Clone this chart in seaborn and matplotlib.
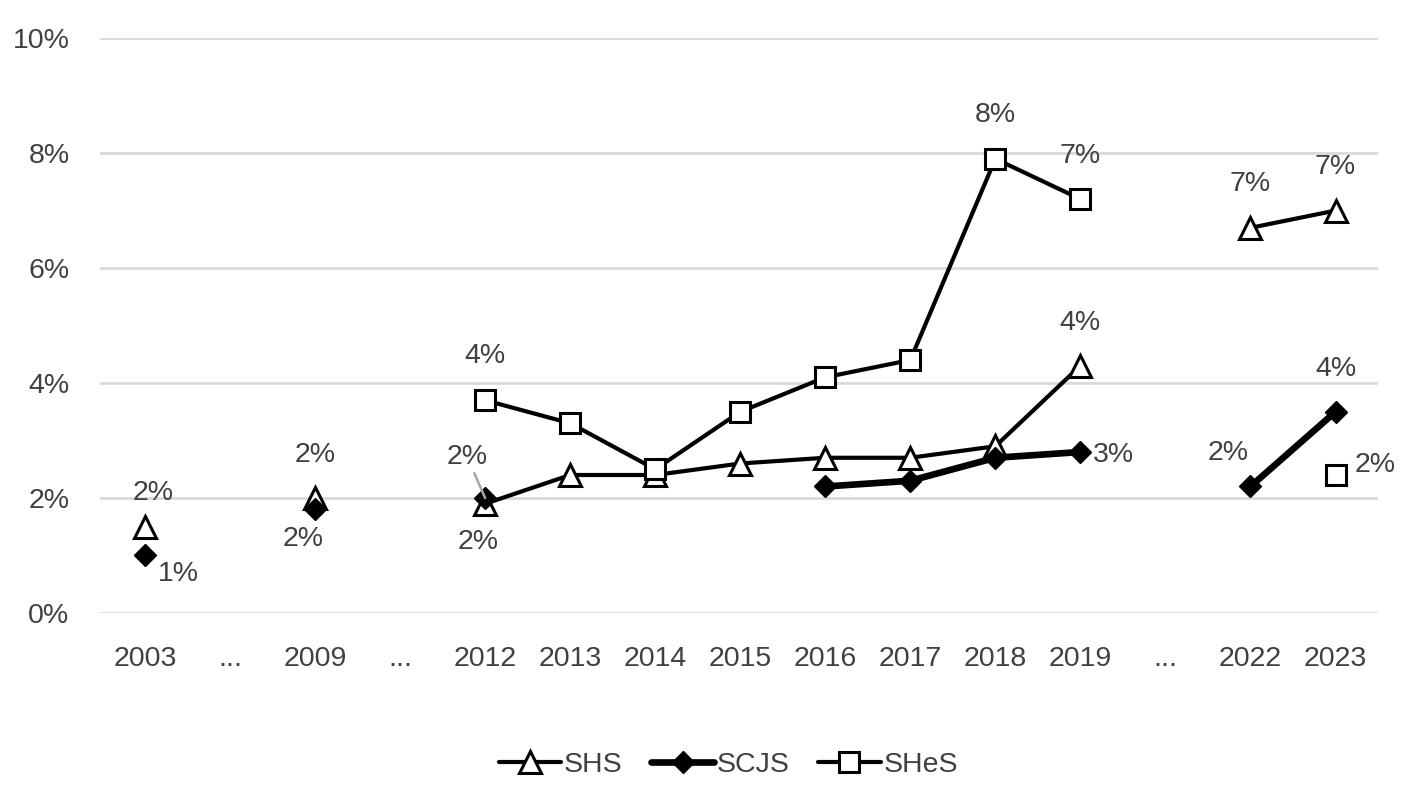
import numpy as np
import pandas as pd
import seaborn as sns
import matplotlib.pyplot as plt
from matplotlib.lines import Line2D

# categories on the x axis ("..." marks skipped years)
years = ['2003', '...', '2009', '...', '2012', '2013', '2014', '2015',
         '2016', '2017', '2018', '2019', '...', '2022', '2023']

nan = np.nan
shs = [1.5, nan, 2.0, nan, 1.9, 2.4, 2.4, 2.6, 2.7, 2.7, 2.9, 4.3, nan, 6.7, 7.0]
scjs = [1.0, nan, 1.8, nan, 2.0, nan, nan, nan, 2.2, 2.3, 2.7, 2.8, nan, 2.2, 3.5]
shes = [nan, nan, nan, nan, 3.7, 3.3, 2.5, 3.5, 4.1, 4.4, 7.9, 7.2, nan, nan, 2.4]

# which points carry a data label
shs_lab = [0, 2, 4, 11, 13, 14]
scjs_lab = [0, 2, 4, 11, 13, 14]
shes_lab = [4, 10, 11, 14]


def long_form(name, vals):
    rows = []
    seg = 0
    prev = False
    for i, v in enumerate(vals):
        if np.isnan(v):
            prev = False
            continue
        if not prev:
            seg += 1
        rows.append({'pos': i, 'val': v, 'series': name, 'seg': seg})
        prev = True
    return pd.DataFrame(rows)


df_shs = long_form('SHS', shs)
df_scjs = long_form('SCJS', scjs)
df_shes = long_form('SHeS', shes)

sns.set_style('white')
plt.rcParams['font.family'] = ['Liberation Sans', 'DejaVu Sans']
txt = '#404040'

fig = plt.figure(figsize=(14.06, 7.94), dpi=100)
ax = fig.add_axes([0.0711, 0.228, 0.909, 0.724])

styles = {
    'SHS': dict(lw=3.0, marker='^', markersize=15.5, mfc='white', mec='black', mew=2.2),
    'SCJS': dict(lw=4.8, marker='D', markersize=11, mfc='black', mec='black', mew=1),
    'SHeS': dict(lw=3.0, marker='s', markersize=15, mfc='white', mec='black', mew=2.2),
}

for name, d in [('SHS', df_shs), ('SCJS', df_scjs), ('SHeS', df_shes)]:
    sns.lineplot(data=d, x='pos', y='val', units='seg', estimator=None,
                 color='black', ax=ax, legend=False, **styles[name])

# data labels (offsets in pixels)
shs_off = {0: (8, 34), 2: (0, 43), 4: (-7, -38), 11: (0, 43), 13: (0, 44), 14: (0, 44)}
scjs_off = {0: (33, -19), 2: (-12, -30), 4: (-18, 41), 11: (33, -3), 13: (-22, 33), 14: (0, 43)}
shes_off = {4: (0, 44), 10: (0, 44), 11: (0, 43), 14: (40, 10)}

for vals, idx, offs in [(shs, shs_lab, shs_off), (scjs, scjs_lab, scjs_off),
                        (shes, shes_lab, shes_off)]:
    for i in idx:
        v = vals[i]
        kw = {}
        if vals is scjs and i == 4:
            kw['arrowprops'] = dict(arrowstyle='-', color='#a6a6a6', lw=1.8,
                                    shrinkA=0, shrinkB=0)
        ax.annotate(f'{v:.0f}%', (i, v), xytext=offs[i], textcoords='offset pixels',
                    ha='center', va='center', fontsize=20.5, color=txt, **kw)

ax.set_xlim(-0.53, 14.5)
ax.set_ylim(0, 10)
ax.set_xticks(range(len(years)))
ax.set_xticklabels(years)
ax.set_yticks(range(0, 11, 2))
ax.set_yticklabels([f'{t}%' for t in range(0, 11, 2)])
ax.tick_params(axis='both', length=0, labelsize=20.5, labelcolor=txt)
ax.tick_params(axis='x', pad=24)
ax.tick_params(axis='y', pad=22)
ax.set_xlabel('')
ax.set_ylabel('')
ax.grid(axis='y', color='#d9d9d9', lw=2)
ax.set_axisbelow(True)
for s in ax.spines.values():
    s.set_visible(False)

handles = [Line2D([], [], color='black', label=n, **styles[n]) for n in ['SHS', 'SCJS', 'SHeS']]
leg = fig.legend(handles=handles, loc='center', bbox_to_anchor=(0.518, 0.036), ncol=3,
                 frameon=False, fontsize=20.5, handlelength=2.2, handletextpad=0.1,
                 columnspacing=1.0, labelcolor=txt)

fig.savefig('out.png', dpi=100)
